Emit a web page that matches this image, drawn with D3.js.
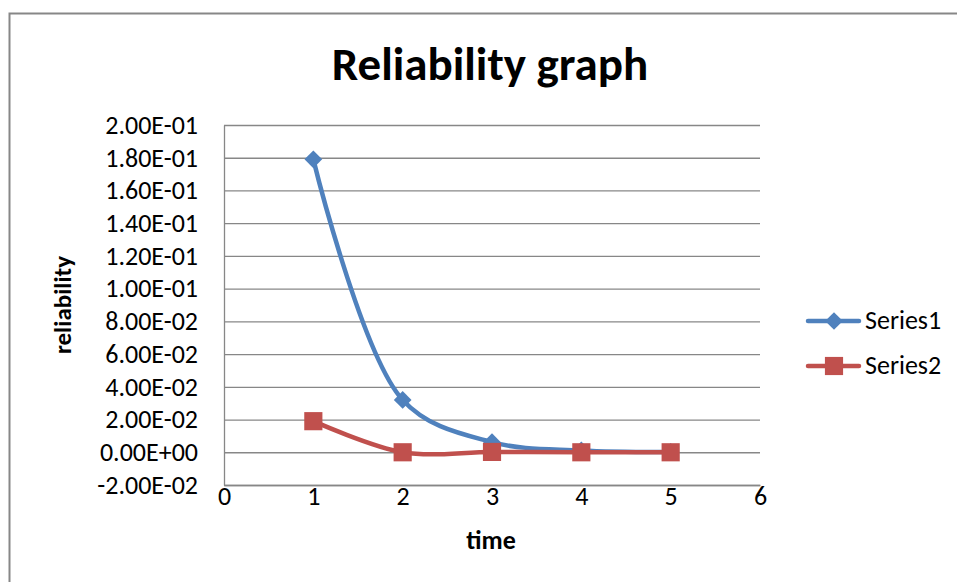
<!DOCTYPE html>
<html lang="en">
<head>
<meta charset="UTF-8" />
<title>Reliability graph</title>
<style>
  body { margin: 0; background: #fff; }
  svg text { font-family: Carlito, "Liberation Sans Narrow", "Open Sans", sans-serif; fill: #000; }
  .grid line { stroke: #878787; stroke-width: 1.3; }
  .grid path { display: none; }
  .axis path, .axis line { stroke: #878787; stroke-width: 1.3; }
</style>
</head>
<body>
<div class="chart"></div>
<script src="https://d3js.org/d3.v7.min.js"></script>
<script>
  // data
  const times = [1, 2, 3, 4, 5]
  const series1 = [0.179, 0.032, 0.0062, 0.0011, 0.0002]
  const series2 = [0.019, 0.0, 0.0002, 0.0, 0.0]
  const yTicks = [-0.02, 0, 0.02, 0.04, 0.06, 0.08, 0.1, 0.12, 0.14, 0.16, 0.18, 0.2]
  const xTicks = [0, 1, 2, 3, 4, 5, 6]
  const seriesNames = ['Series1', 'Series2']
  const colors = ['#4F81BD', '#C0504D']

  const width = 957
  const height = 582

  const svg = d3.select('.chart')
    .append('svg')
    .attr('width', width)
    .attr('height', height)

  // outer chart frame
  svg.append('rect')
    .attr('x', 9.5).attr('y', 13.5)
    .attr('width', 980).attr('height', 600)
    .attr('fill', 'none')
    .attr('stroke', '#878787')
    .attr('stroke-width', 2)

  const xScale = d3.scaleLinear().domain([0, 6]).range([224, 760])
  const yScale = d3.scaleLinear().domain([-0.02, 0.2]).range([485, 125])

  // horizontal gridlines
  svg.append('g')
    .attr('class', 'grid')
    .attr('transform', 'translate(224,0)')
    .call(d3.axisRight(yScale).tickValues(yTicks).tickSize(536).tickFormat(''))

  // y axis, Excel style scientific labels
  const sci = d => d3.format('.2e')(d).replace(/\u2212/g, '-').replace('e', 'E')
    .replace(/E([+-])(\d)$/, 'E$10$2')
  const yAxis = svg.append('g')
    .attr('class', 'axis')
    .attr('transform', 'translate(224,0)')
    .call(d3.axisLeft(yScale).tickValues(yTicks).tickSize(0).tickPadding(26).tickFormat(sci))
  yAxis.selectAll('text').style('font-size', '26px')

  // x axis
  const xAxis = svg.append('g')
    .attr('class', 'axis')
    .attr('transform', 'translate(0,485)')
    .call(d3.axisBottom(xScale).tickValues(xTicks).tickSize(0).tickPadding(2).tickFormat(d3.format('d')))
  xAxis.selectAll('text').style('font-size', '26px')

  // title and axis labels
  svg.append('text')
    .attr('x', 490).attr('y', 80)
    .attr('text-anchor', 'middle')
    .style('font-size', '47px').style('font-weight', 'bold')
    .text('Reliability graph')

  svg.append('text')
    .attr('transform', 'translate(71,305) rotate(-90)')
    .attr('text-anchor', 'middle')
    .style('font-size', '25px').style('font-weight', 'bold')
    .text('reliability')

  svg.append('text')
    .attr('x', 491).attr('y', 549)
    .attr('text-anchor', 'middle')
    .style('font-size', '26px').style('font-weight', 'bold')
    .text('time')

  const line = d3.line()
    .x(d => xScale(d[0]))
    .y(d => yScale(d[1]))
    .curve(d3.curveCatmullRom.alpha(0.5))

  const allSeries = [series1, series2]
  const diamond = d3.symbol().type(d3.symbolDiamond2).size(200)
  const square = d3.symbol().type(d3.symbolSquare).size(330)
  const shapes = [diamond, square]

  allSeries.forEach((vals, i) => {
    const pts = times.map((t, j) => [t, vals[j]])
    svg.append('path')
      .datum(pts)
      .attr('d', line)
      .attr('fill', 'none')
      .attr('stroke', colors[i])
      .attr('stroke-width', 4.5)
      .attr('stroke-linecap', 'round')

    svg.append('g').selectAll('path')
      .data(pts)
      .join('path')
      .attr('d', shapes[i])
      .attr('transform', d => `translate(${xScale(d[0])},${yScale(d[1])})`)
      .attr('fill', colors[i])
  })

  // legend
  const legendY = [321, 366]
  seriesNames.forEach((name, i) => {
    const g = svg.append('g').attr('transform', `translate(0,${legendY[i]})`)
    g.append('line')
      .attr('x1', 808).attr('x2', 859)
      .attr('stroke', colors[i]).attr('stroke-width', 4.5)
      .attr('stroke-linecap', 'round')
    g.append('path')
      .attr('d', shapes[i])
      .attr('transform', 'translate(834,0)')
      .attr('fill', colors[i])
    g.append('text')
      .attr('x', 865).attr('y', 8)
      .style('font-size', '26px')
      .text(name)
  })
</script>
</body>
</html>
